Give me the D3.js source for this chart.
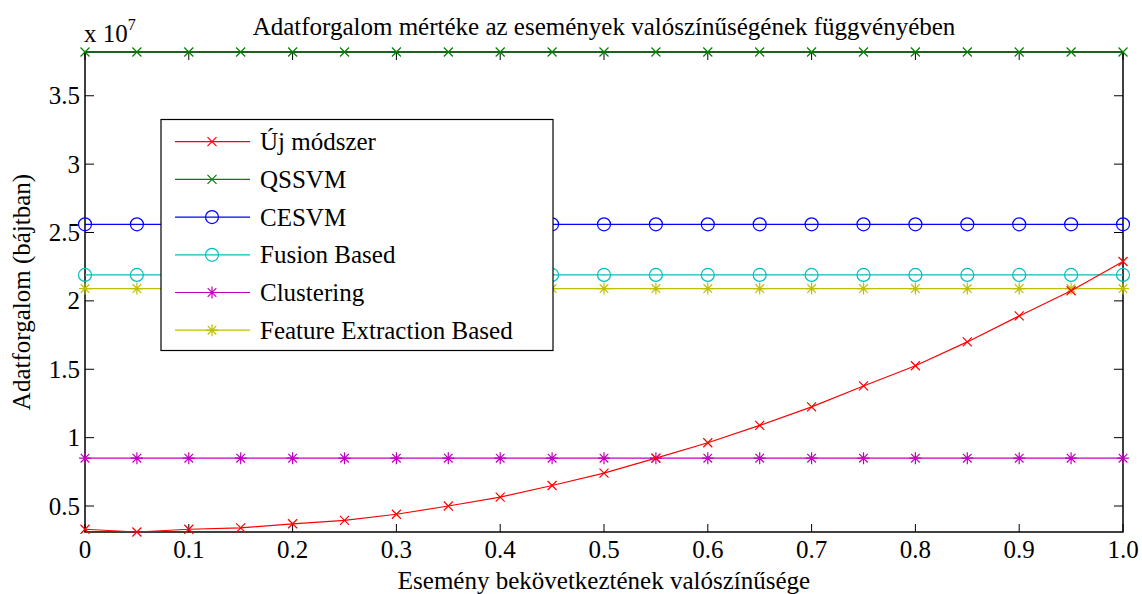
<!DOCTYPE html>
<html><head><meta charset="utf-8">
<script src="https://cdn.jsdelivr.net/npm/d3@7"></script>
<style>body{margin:0;background:#fff}svg{display:block}</style>
</head><body><svg id="c" width="1142" height="594"></svg>
<script>
const xValues = [0,0.05,0.1,0.15,0.2,0.25,0.3,0.35,0.4,0.45,0.5,0.55,0.6,0.65,0.7,0.75,0.8,0.85,0.9,0.95,1.0];
const ujModszer = [0.33,0.31,0.33,0.34,0.37,0.395,0.44,0.50,0.565,0.65,0.74,0.85,0.963,1.09,1.225,1.378,1.526,1.70,1.89,2.074,2.288];
const qssvm = Array(21).fill(3.82);
const cesvm = Array(21).fill(2.56);
const fusionBased = Array(21).fill(2.19);
const clustering = Array(21).fill(0.85);
const featureExtraction = Array(21).fill(2.09);
const xTicks = [0,0.1,0.2,0.3,0.4,0.5,0.6,0.7,0.8,0.9,1.0];
const xTickLabels = ["0","0.1","0.2","0.3","0.4","0.5","0.6","0.7","0.8","0.9","1.0"];
const yTicks = [0.5,1,1.5,2,2.5,3,3.5];
const yTickLabels = ["0.5","1","1.5","2","2.5","3","3.5"];
const seriesNames = ["Új módszer","QSSVM","CESVM","Fusion Based","Clustering","Feature Extraction Based"];

const series = [
  {name:seriesNames[0], values:ujModszer, color:"#ff0000", marker:"x"},
  {name:seriesNames[1], values:qssvm, color:"#008000", marker:"x"},
  {name:seriesNames[2], values:cesvm, color:"#0000ff", marker:"o"},
  {name:seriesNames[3], values:fusionBased, color:"#00bfbf", marker:"o"},
  {name:seriesNames[4], values:clustering, color:"#bf00bf", marker:"*"},
  {name:seriesNames[5], values:featureExtraction, color:"#bfbf00", marker:"*"}
];

const FONT='"Liberation Serif"';
const FS=25;
const L=85,R=1123,T=52,B=532;
const svg=d3.select("#c");
const x=d3.scaleLinear().domain([0,1]).range([L,R]);
const allVals=series.flatMap(s=>s.values);
const y=d3.scaleLinear().domain(d3.extent(allVals)).range([B,T]);

function txt(g,xx,yy,size,anchor,s){
  return g.append("text").attr("x",xx).attr("y",yy).attr("font-size",size).attr("text-anchor",anchor).attr("fill","#000").style("font-family",FONT).text(s);
}

function drawMarker(g,type,cx,cy,color){
  if(type==="x"){
    const r=4.5;
    g.append("path").attr("d",`M${cx-r},${cy-r}L${cx+r},${cy+r}M${cx-r},${cy+r}L${cx+r},${cy-r}`).attr("stroke",color).attr("stroke-width",1.2).attr("fill","none");
  } else if(type==="o"){
    g.append("circle").attr("cx",cx).attr("cy",cy).attr("r",6.5).attr("stroke",color).attr("stroke-width",1.2).attr("fill","none");
  } else {
    const r=6,d=4.3;
    g.append("path").attr("d",`M${cx},${cy-r}L${cx},${cy+r}M${cx-r},${cy}L${cx+r},${cy}M${cx-d},${cy-d}L${cx+d},${cy+d}M${cx-d},${cy+d}L${cx+d},${cy-d}`).attr("stroke",color).attr("stroke-width",1.2).attr("fill","none");
  }
}

const tk=svg.append("g").attr("stroke","#000").attr("stroke-width",1);
xTicks.forEach(v=>{
  tk.append("line").attr("x1",x(v)).attr("x2",x(v)).attr("y1",B).attr("y2",B-8);
  tk.append("line").attr("x1",x(v)).attr("x2",x(v)).attr("y1",T).attr("y2",T+8);
});
yTicks.forEach(v=>{
  tk.append("line").attr("x1",L).attr("x2",L+9).attr("y1",y(v)).attr("y2",y(v));
  tk.append("line").attr("x1",R).attr("x2",R-9).attr("y1",y(v)).attr("y2",y(v));
});
svg.append("rect").attr("x",L).attr("y",T).attr("width",R-L).attr("height",B-T).attr("fill","none").attr("stroke","#000").attr("stroke-width",1.5);

xTicks.forEach((v,i)=>txt(svg,x(v),B+26,FS,"middle",xTickLabels[i]));
yTicks.forEach((v,i)=>txt(svg,L-5,y(v)+8.5,FS,"end",yTickLabels[i]));
const ex=txt(svg,L-1,42,FS,"start","");
ex.append("tspan").text("x 10");
ex.append("tspan").attr("dy",-12).attr("font-size",16).text("7");

const line=d3.line().x((d,i)=>x(xValues[i])).y(d=>y(d));
const sg=svg.append("g");
series.slice().reverse().forEach(s=>{
  sg.append("path").datum(s.values).attr("d",line).attr("fill","none").attr("stroke",s.color).attr("stroke-width",1.2);
  s.values.forEach((v,i)=>drawMarker(sg,s.marker,x(xValues[i]),y(v),s.color));
});

const lg=svg.append("g");
lg.append("rect").attr("x",161).attr("y",119.5).attr("width",392).attr("height",231).attr("fill","#fff").attr("stroke","#000").attr("stroke-width",1.2);
series.forEach((s,i)=>{
  const yy=141.7+i*37.7;
  lg.append("line").attr("x1",175).attr("x2",250).attr("y1",yy).attr("y2",yy).attr("stroke",s.color).attr("stroke-width",1.2);
  drawMarker(lg,s.marker,212,yy,s.color);
  txt(lg,260,yy+8.5,FS,"start",s.name);
});

txt(svg,604,35,FS,"middle","Adatforgalom mértéke az események valószínűségének függvényében");
txt(svg,604,589,FS,"middle","Esemény bekövetkeztének valószínűsége");
txt(svg,0,0,FS,"middle","Adatforgalom (bájtban)").attr("transform","translate(30,292) rotate(-90)");
</script></body></html>
